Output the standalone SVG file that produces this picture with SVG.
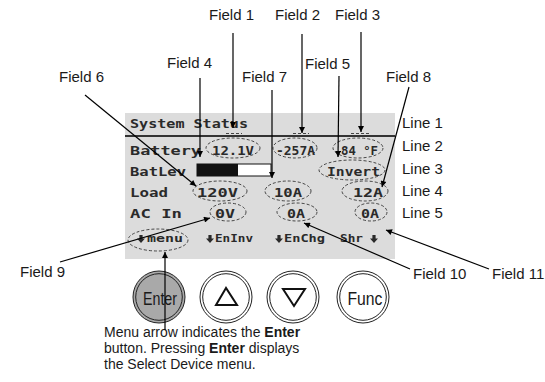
<svg xmlns="http://www.w3.org/2000/svg" width="545" height="382" viewBox="0 0 545 382">
<style>
.lbl{font-family:"Liberation Sans",Arial,sans-serif;font-size:15px;fill:#1a1a1a}
.cap{font-family:"Liberation Sans",Arial,sans-serif;font-size:14px;fill:#1a1a1a}
.lcd{font-family:"DejaVu Sans Mono",monospace;font-weight:bold;font-size:13px;fill:#2a2a2a}
.lcds{font-family:"DejaVu Sans Mono",monospace;font-weight:bold;font-size:10.5px;fill:#2a2a2a}
.dash{fill:none;stroke:#333;stroke-width:0.9;stroke-dasharray:3 2}
.conn{stroke:#000;stroke-width:1.2;fill:none}
.ring{fill:#fff;stroke:#222;stroke-width:1}
.btxt{font-family:"Liberation Sans Narrow","Liberation Sans",Arial,sans-serif;font-size:19px;fill:#1a1a1a;text-anchor:middle}
</style>
<defs>
<marker id="ah" viewBox="0 0 10 10" refX="10" refY="5" markerWidth="8" markerHeight="6" markerUnits="userSpaceOnUse" orient="auto">
<path d="M0,0 L10,5 L0,10 z" fill="#000"/>
</marker>
<polygon id="dn" points="-1.6,-8 1.6,-8 1.6,-4.5 4,-4.5 0,0 -4,-4.5 -1.6,-4.5" fill="#2a2a2a"/>
</defs>
<rect width="545" height="382" fill="#fff"/>

<g id="panel">
<rect x="125" y="113" width="270" height="146" fill="#dcdcdc"/>
<line x1="125" y1="136" x2="395" y2="136" stroke="#333" stroke-width="2"/>
<text class="lcd" x="130" y="128" textLength="118" lengthAdjust="spacingAndGlyphs">System Status</text>
<text class="lcd" x="130" y="155" textLength="71" lengthAdjust="spacingAndGlyphs">Battery</text>
<text class="lcd" x="130" y="176" textLength="56" lengthAdjust="spacingAndGlyphs">BatLev</text>
<text class="lcd" x="130" y="197" textLength="38" lengthAdjust="spacingAndGlyphs">Load</text>
<text class="lcd" x="130" y="218" textLength="52" lengthAdjust="spacingAndGlyphs">AC In</text>
</g>

<g id="field1"><path class="dash" d="M226,133.5 L242,133.5"/></g>
<g id="field2"><path class="dash" d="M293,133.5 L309,133.5"/></g>
<g id="field3"><path class="dash" d="M351,133.5 L369,133.5"/></g>
<g id="field4">
<rect x="197" y="164" width="74" height="12" fill="#fff" stroke="#111" stroke-width="1"/>
<rect x="197" y="164" width="41" height="12" fill="#111"/>
</g>
<g id="v121"><ellipse class="dash" cx="233" cy="148" rx="27" ry="10"/><text class="lcd" x="212" y="155" textLength="42" lengthAdjust="spacingAndGlyphs">12.1V</text></g>
<g id="v257"><ellipse class="dash" cx="295" cy="148" rx="22" ry="10"/><text class="lcd" x="276" y="155" textLength="39" lengthAdjust="spacingAndGlyphs">-257A</text></g>
<g id="v84"><ellipse class="dash" cx="358" cy="148" rx="25" ry="10"/><text class="lcd" x="341" y="155" textLength="37" lengthAdjust="spacingAndGlyphs">84 °F</text></g>
<g id="invert"><ellipse class="dash" cx="352" cy="170" rx="33" ry="10"/><text class="lcd" x="327" y="176" textLength="53" lengthAdjust="spacingAndGlyphs">Invert</text></g>
<g id="v120"><ellipse class="dash" cx="220" cy="191" rx="27" ry="10"/><text class="lcd" x="197" y="197" textLength="41" lengthAdjust="spacingAndGlyphs">120V</text></g>
<g id="v10a"><ellipse class="dash" cx="288" cy="191" rx="23" ry="10"/><text class="lcd" x="274" y="197" textLength="28" lengthAdjust="spacingAndGlyphs">10A</text></g>
<g id="v12a"><ellipse class="dash" cx="365" cy="191" rx="23" ry="10"/><text class="lcd" x="353" y="197" textLength="30" lengthAdjust="spacingAndGlyphs">12A</text></g>
<g id="v0v"><ellipse class="dash" cx="228" cy="212" rx="18" ry="9"/><text class="lcd" x="215" y="218" textLength="20" lengthAdjust="spacingAndGlyphs">0V</text></g>
<g id="v0a1"><ellipse class="dash" cx="297" cy="212" rx="20" ry="9"/><text class="lcd" x="287" y="218" textLength="18" lengthAdjust="spacingAndGlyphs">0A</text></g>
<g id="v0a2"><ellipse class="dash" cx="371" cy="212" rx="16" ry="9"/><text class="lcd" x="361" y="218" textLength="18" lengthAdjust="spacingAndGlyphs">0A</text></g>
<g id="menu"><ellipse class="dash" cx="158" cy="240" rx="30" ry="11"/><use href="#dn" x="141" y="243"/><text class="lcds" x="147" y="242" textLength="36" lengthAdjust="spacingAndGlyphs">menu</text></g>
<g id="eninv"><use href="#dn" x="210" y="243"/><text class="lcds" x="215" y="242" textLength="38" lengthAdjust="spacingAndGlyphs">EnInv</text></g>
<g id="enchg"><use href="#dn" x="279" y="243"/><text class="lcds" x="284" y="242" textLength="41" lengthAdjust="spacingAndGlyphs">EnChg</text></g>
<g id="shr"><text class="lcds" x="340" y="242" textLength="23" lengthAdjust="spacingAndGlyphs">Shr</text><use href="#dn" x="374" y="243"/></g>

<g id="btn-enter"><circle cx="159" cy="297" r="26" fill="#a9a9a9" stroke="#222" stroke-width="1"/><circle cx="159" cy="297" r="23.3" fill="#a9a9a9" stroke="#222" stroke-width="1"/><text class="btxt" x="160" y="305" textLength="34" lengthAdjust="spacingAndGlyphs">Enter</text></g>
<g id="btn-up"><circle class="ring" cx="226" cy="297" r="26"/><circle class="ring" cx="226" cy="297" r="23.3"/><polygon points="226,288 216,305 237,305" fill="none" stroke="#111" stroke-width="2" stroke-linejoin="miter"/></g>
<g id="btn-down"><circle class="ring" cx="293" cy="297" r="26"/><circle class="ring" cx="293" cy="297" r="23.3"/><polygon points="283,289 305,289 294,306" fill="none" stroke="#111" stroke-width="2"/></g>
<g id="btn-func"><circle class="ring" cx="363" cy="297" r="26"/><circle class="ring" cx="363" cy="297" r="23.3"/><text class="btxt" x="365" y="305" textLength="35" lengthAdjust="spacingAndGlyphs">Func</text></g>

<g id="labels">
<text class="lbl" x="209" y="20">Field 1</text>
<text class="lbl" x="275" y="20">Field 2</text>
<text class="lbl" x="335" y="20">Field 3</text>
<text class="lbl" x="167" y="68">Field 4</text>
<text class="lbl" x="305" y="69">Field 5</text>
<text class="lbl" x="59" y="82">Field 6</text>
<text class="lbl" x="242" y="82">Field 7</text>
<text class="lbl" x="386" y="82">Field 8</text>
<text class="lbl" x="20" y="277">Field 9</text>
<text class="lbl" x="413" y="279">Field 10</text>
<text class="lbl" x="492" y="279">Field 11</text>
<text class="lbl" x="402" y="128">Line 1</text>
<text class="lbl" x="402" y="151">Line 2</text>
<text class="lbl" x="402" y="174">Line 3</text>
<text class="lbl" x="402" y="196">Line 4</text>
<text class="lbl" x="402" y="218">Line 5</text>
</g>

<g id="caption">
<text class="cap" x="104" y="337">Menu arrow indicates the <tspan font-weight="bold">Enter</tspan></text>
<text class="cap" x="104" y="353">button. Pressing <tspan font-weight="bold">Enter</tspan> displays</text>
<text class="cap" x="104" y="369">the Select Device menu.</text>
</g>

<g id="connectors">
<line class="conn" x1="233" y1="33" x2="233" y2="128" marker-end="url(#ah)"/>
<line class="conn" x1="302" y1="34" x2="302" y2="133" marker-end="url(#ah)"/>
<line class="conn" x1="361" y1="32" x2="361" y2="132" marker-end="url(#ah)"/>
<line class="conn" x1="200" y1="78" x2="200" y2="157" marker-end="url(#ah)"/>
<line class="conn" x1="272" y1="90" x2="272" y2="178" marker-end="url(#ah)"/>
<line class="conn" x1="339" y1="76" x2="338" y2="157" marker-end="url(#ah)"/>
<line class="conn" x1="85" y1="95" x2="196" y2="186" marker-end="url(#ah)"/>
<line class="conn" x1="409" y1="87" x2="382" y2="187" marker-end="url(#ah)"/>
<line class="conn" x1="60" y1="262" x2="210" y2="218" marker-end="url(#ah)"/>
<line class="conn" x1="410" y1="269" x2="304" y2="223" marker-end="url(#ah)"/>
<line class="conn" x1="489" y1="269" x2="386" y2="230" marker-end="url(#ah)"/>
<line class="conn" x1="165" y1="330" x2="165" y2="252" marker-end="url(#ah)"/>
</g>
</svg>
